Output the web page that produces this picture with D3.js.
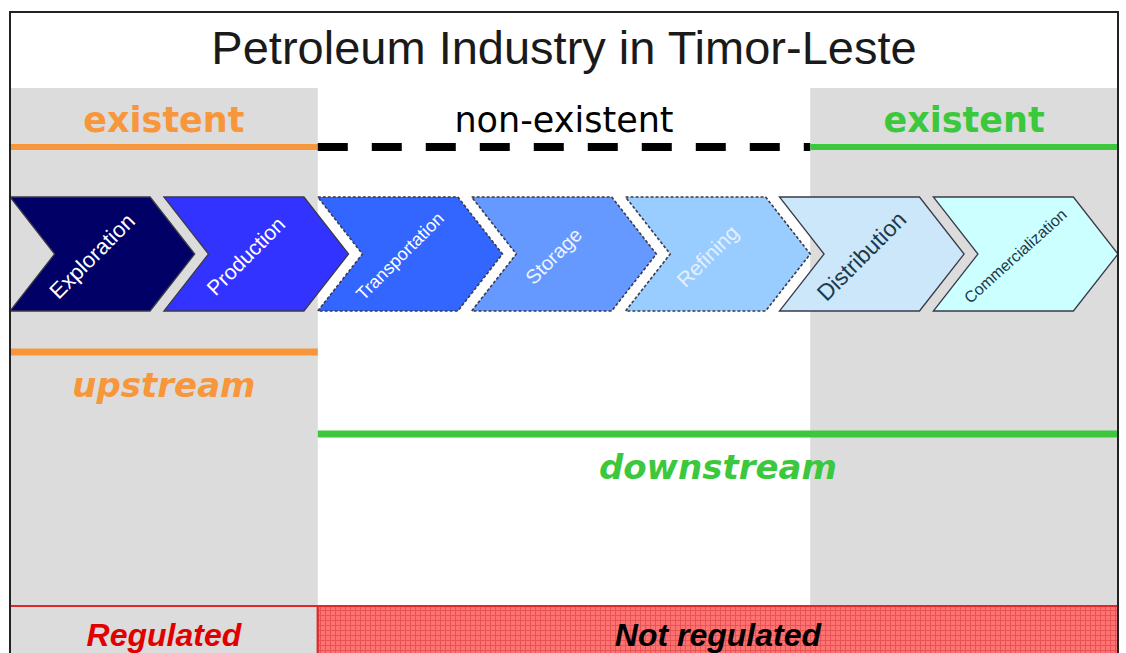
<!DOCTYPE html>
<html>
<head>
<meta charset="utf-8">
<script src="https://cdn.jsdelivr.net/npm/d3@7"></script>
<style>
  body { margin: 0; background: #fff; }
  svg { display: block; }
</style>
</head>
<body>
<div id="chart"></div>
<script>
// value chain stages
var stages = ["Exploration", "Production", "Transportation", "Storage", "Refining", "Distribution", "Commercialization"];
var stageStatus = ["existent", "existent", "non-existent", "non-existent", "non-existent", "existent", "existent"];

// existence zones (in stage units)
var zoneLabels = ["existent", "non-existent", "existent"];
var zoneStart = [0, 2, 5.2];
var zoneEnd = [2, 5.2, 7.2];

// upstream / downstream
var streamLabels = ["upstream", "downstream"];
var streamStart = [0, 2];
var streamEnd = [2, 7.2];

// regulation band
var regLabels = ["Regulated", "Not regulated"];
var regStart = [0, 2];
var regEnd = [2, 7.2];

var width = 1126, height = 653;

var x = d3.scaleLinear().domain([0, 7.2]).range([10, 1118]);

var fill = d3.scaleOrdinal().domain(stages)
    .range(["#000066", "#3333ff", "#3366ff", "#6699ff", "#99ccff", "#cce6fa", "#ccffff"]);
var textColor = d3.scaleOrdinal().domain(stages)
    .range(["#ffffff", "#ffffff", "#ffffff", "#eef4ff", "#e4f0ff", "#1d3a4a", "#1d3a4a"]);
var labelSize = d3.scaleOrdinal().domain(stages).range([22, 21, 18, 20, 21, 23, 16]);
var labelAngle = d3.scaleOrdinal().domain(stages).range([-45, -45, -45, -45, -45, -45, -42]);

var zoneColor = ["#f7963b", "#000000", "#3cc83c"];
var streamColor = ["#f7963b", "#3cc83c"];

var sans = "'Liberation Sans', Arial, sans-serif";
var verdana = "'DejaVu Sans', Verdana, sans-serif";

var svg = d3.select("#chart").append("svg")
    .attr("width", width)
    .attr("height", height);

// gray shading behind existent zones
zoneLabels.forEach(function(z, i) {
    if (z == "existent") {
        svg.append("rect")
            .attr("x", x(zoneStart[i]))
            .attr("y", 88)
            .attr("width", x(zoneEnd[i]) - x(zoneStart[i]))
            .attr("height", 517)
            .attr("fill", "#dcdcdc");
    }
});

// title
svg.append("text")
    .attr("x", x(3.6))
    .attr("y", 64)
    .attr("text-anchor", "middle")
    .style("font-family", sans)
    .style("font-size", "47px")
    .attr("fill", "#1a1a1a")
    .text("Petroleum Industry in Timor-Leste");

// existence labels and lines
zoneLabels.forEach(function(z, i) {
    var cx = (x(zoneStart[i]) + x(zoneEnd[i])) / 2;
    svg.append("text")
        .attr("x", cx)
        .attr("y", 132)
        .attr("text-anchor", "middle")
        .style("font-family", verdana)
        .style("font-size", "35px")
        .style("font-weight", z == "existent" ? "bold" : "normal")
        .attr("fill", zoneColor[i])
        .text(z);
    svg.append("line")
        .attr("x1", x(zoneStart[i]))
        .attr("x2", x(zoneEnd[i]))
        .attr("y1", 147)
        .attr("y2", 147)
        .attr("stroke", zoneColor[i])
        .attr("stroke-width", z == "existent" ? 6 : 8)
        .attr("stroke-dasharray", z == "existent" ? null : "30,24");
});

// chevrons
var body = x(0.91) - x(0), tip = x(0.29) - x(0);
var yTop = 197, yBottom = 311, yMid = 254;

function chevron(i) {
    var x0 = x(i);
    return "M" + x0 + "," + yTop +
        "L" + (x0 + body) + "," + yTop +
        "L" + (x0 + body + tip) + "," + yMid +
        "L" + (x0 + body) + "," + yBottom +
        "L" + x0 + "," + yBottom +
        "L" + (x0 + tip) + "," + yMid + "Z";
}

var chev = svg.selectAll(".chev")
    .data(stages)
    .enter().append("g")
    .attr("class", "chev");

chev.append("path")
    .attr("d", function(d, i) { return chevron(i); })
    .attr("fill", function(d) { return fill(d); })
    .attr("stroke", "#3a3a4a")
    .attr("stroke-width", function(d, i) { return stageStatus[i] == "existent" ? 1.3 : 1.6; })
    .attr("stroke-dasharray", function(d, i) { return stageStatus[i] == "existent" ? null : "3,2"; });

chev.append("text")
    .attr("transform", function(d, i) {
        return "translate(" + (x(i) + 82) + "," + (yMid + 2) + ") rotate(" + labelAngle(d) + ")";
    })
    .attr("text-anchor", "middle")
    .attr("dy", "0.35em")
    .style("font-family", sans)
    .style("font-size", function(d) { return labelSize(d) + "px"; })
    .attr("fill", function(d) { return textColor(d); })
    .text(function(d) { return d; });

// upstream / downstream
var streamY = [352, 434];
streamLabels.forEach(function(s, i) {
    svg.append("line")
        .attr("x1", x(streamStart[i]))
        .attr("x2", x(streamEnd[i]))
        .attr("y1", streamY[i])
        .attr("y2", streamY[i])
        .attr("stroke", streamColor[i])
        .attr("stroke-width", 7);
    svg.append("text")
        .attr("x", (x(streamStart[i]) + x(streamEnd[i])) / 2)
        .attr("y", streamY[i] + 45)
        .attr("text-anchor", "middle")
        .style("font-family", verdana)
        .style("font-size", "34px")
        .style("font-weight", "bold")
        .style("font-style", "italic")
        .attr("fill", streamColor[i])
        .text(s);
});

// grid pattern for the not regulated cell
var defs = svg.append("defs");
var pat = defs.append("pattern")
    .attr("id", "grid")
    .attr("width", 5)
    .attr("height", 5)
    .attr("patternUnits", "userSpaceOnUse");
pat.append("rect").attr("width", 5).attr("height", 5).attr("fill", "#ff7272");
pat.append("path").attr("d", "M0,0.5H5M0.5,0V5")
    .attr("stroke", "#e85454").attr("stroke-width", 1);

// regulation band
regLabels.forEach(function(r, i) {
    var x0 = x(regStart[i]), x1 = x(regEnd[i]);
    svg.append("rect")
        .attr("x", x0)
        .attr("y", 606)
        .attr("width", x1 - x0)
        .attr("height", 60)
        .attr("fill", i == 0 ? "#dcdcdc" : "url(#grid)")
        .attr("stroke", "#e02828")
        .attr("stroke-width", 2);
    svg.append("text")
        .attr("x", (x0 + x1) / 2)
        .attr("y", 646)
        .attr("text-anchor", "middle")
        .style("font-family", sans)
        .style("font-size", "32px")
        .style("font-weight", "bold")
        .style("font-style", "italic")
        .attr("fill", i == 0 ? "#e00000" : "#000000")
        .text(r);
});

// outer frame
svg.append("path")
    .attr("d", "M" + x(0) + "," + height + "V12H" + x(7.2) + "V" + height)
    .attr("fill", "none")
    .attr("stroke", "#222")
    .attr("stroke-width", 2);
</script>
</body>
</html>
